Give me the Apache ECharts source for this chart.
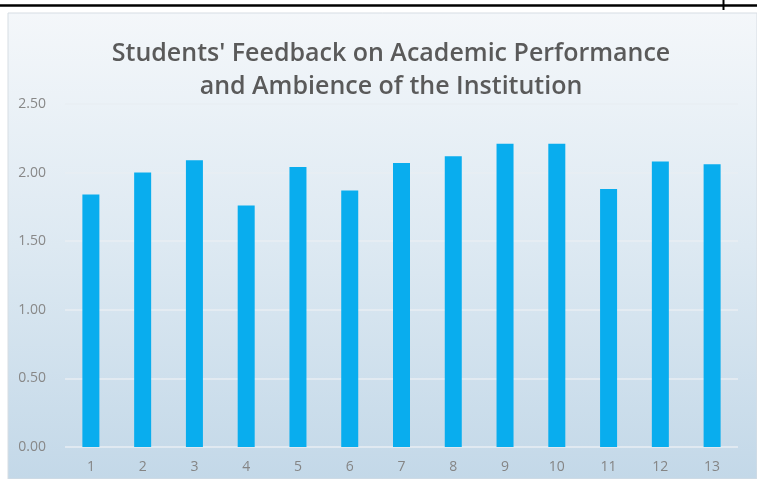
<!DOCTYPE html>
<html>
<head>
<meta charset="utf-8">
<style>html,body{margin:0;padding:0;background:#fff;}#c{width:757px;height:479px;}</style>
<script src="https://cdn.jsdelivr.net/npm/echarts@6/dist/echarts.min.js"></script>
</head>
<body>
<div id="c"></div>
<script>
const categories = ['1','2','3','4','5','6','7','8','9','10','11','12','13'];
const values = [1.84, 2.00, 2.09, 1.76, 2.04, 1.87, 2.07, 2.12, 2.21, 2.21, 1.88, 2.08, 2.06];
const titleLines = ["Students' Feedback on Academic Performance", "and Ambience of the Institution"];

const chart = echarts.init(document.getElementById('c'), null, {renderer: 'canvas'});
chart.setOption({
  animation: false,
  backgroundColor: '#ffffff',
  graphic: [
    {type: 'rect', z: -10, shape: {x: 8, y: 13, width: 749, height: 466},
     style: {fill: new echarts.graphic.LinearGradient(0, 0, 0, 1, [
       {offset: 0, color: '#f4f7fa'}, {offset: 0.5, color: '#dde9f2'}, {offset: 1, color: '#c3d8e8'}]),
       stroke: '#d6dde3', lineWidth: 1}},
    {type: 'line', z: 10, shape: {x1: 0, y1: 5.5, x2: 757, y2: 5.5}, style: {stroke: '#000', lineWidth: 2.5}},
    {type: 'line', z: 10, shape: {x1: 723.5, y1: 0, x2: 723.5, y2: 10}, style: {stroke: '#000', lineWidth: 2}}
  ],
  title: {
    text: titleLines.join('\n'),
    left: 386, textAlign: 'center', top: 32,
    textStyle: {fontFamily: 'Open Sans', fontWeight: 600, fontSize: 25, color: '#5a5a5a', lineHeight: 33}
  },
  grid: {left: 65, right: 19, top: 104, bottom: 32, containLabel: false},
  xAxis: {
    type: 'category', data: categories,
    axisLine: {show: false}, axisTick: {show: false},
    axisLabel: {color: '#858585', fontFamily: 'Open Sans', fontSize: 14, margin: 13}
  },
  yAxis: {
    type: 'value', min: 0, max: 2.5, interval: 0.5,
    axisLine: {show: false}, axisTick: {show: false},
    axisLabel: {color: '#888888', fontFamily: 'Open Sans', fontSize: 14, margin: 19,
      formatter: v => v.toFixed(2)},
    splitLine: {lineStyle: {color: '#e8eef3', width: 1.5}}
  },
  series: [{
    type: 'bar', data: values, barWidth: 17,
    itemStyle: {color: '#09adee'}
  }]
});
</script>
</body>
</html>
